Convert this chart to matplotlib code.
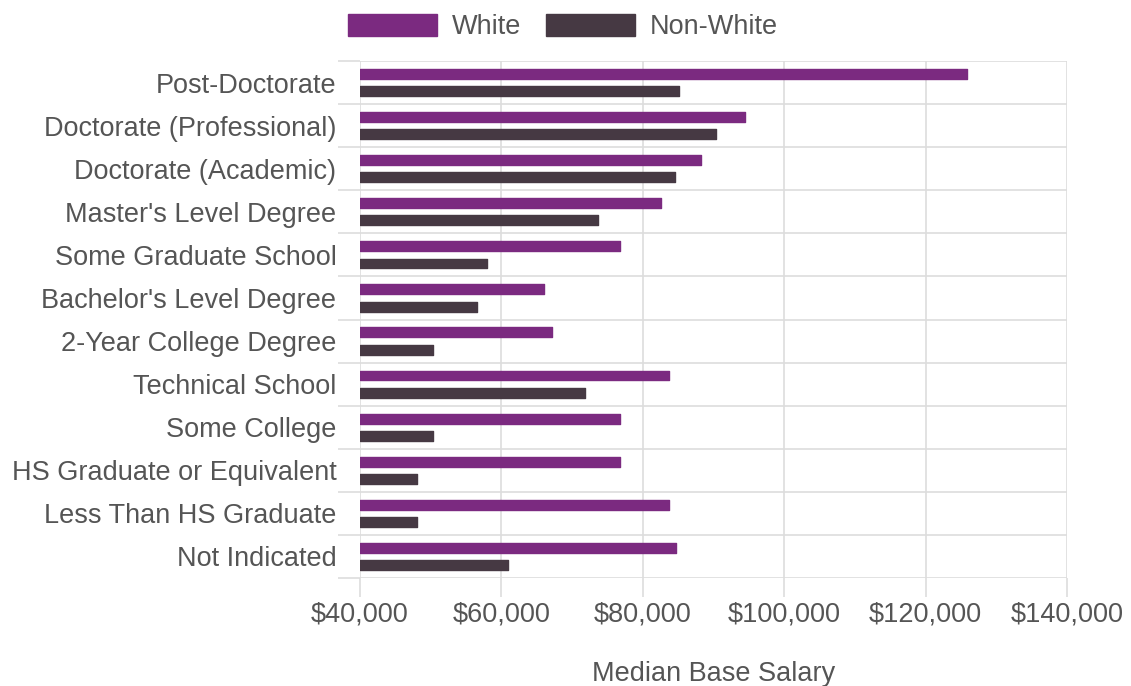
import matplotlib
matplotlib.use("Agg")
import matplotlib.pyplot as plt
import numpy as np
from matplotlib.ticker import FuncFormatter, FixedLocator

categories = [
    "Post-Doctorate",
    "Doctorate (Professional)",
    "Doctorate (Academic)",
    "Master's Level Degree",
    "Some Graduate School",
    "Bachelor's Level Degree",
    "2-Year College Degree",
    "Technical School",
    "Some College",
    "HS Graduate or Equivalent",
    "Less Than HS Graduate",
    "Not Indicated",
]
white = [125800, 94500, 88300, 82600, 76800, 66000, 67200, 83700, 76800, 76800, 83700, 84700]
non_white = [85100, 90300, 84500, 73600, 57900, 56600, 50300, 71800, 50300, 48000, 48000, 61000]
xticks = [40000, 60000, 80000, 100000, 120000, 140000]

WHITE_C = "#7b2a80"
NONWHITE_C = "#463943"
TEXT_C = "#555555"
GRID_C = "#dddddd"

plt.rcParams['font.family'] = ['Liberation Sans', 'DejaVu Sans']

fig = plt.figure(figsize=(11.31, 6.86), dpi=100)
ax = fig.add_axes([360/1131, 1-578/686, (1067-360)/1131, (578-61)/686])

n = len(categories)
y = np.arange(n)
off = 0.2
h = 0.23
ax.barh(y - off, np.array(white) - 40000, left=40000, height=h, color=WHITE_C,
        edgecolor=WHITE_C, linewidth=1.0, joinstyle='round', label="White", zorder=3)
ax.barh(y + off, np.array(non_white) - 40000, left=40000, height=h, color=NONWHITE_C,
        edgecolor=NONWHITE_C, linewidth=1.0, joinstyle='round', label="Non-White", zorder=3)

ax.set_xlim(40000, 140000)
ax.set_ylim(n - 0.5, -0.5)

ax.set_xticks(xticks)
ax.xaxis.set_major_formatter(FuncFormatter(lambda v, p: "${:,.0f}".format(v)))
ax.set_yticks(y)
ax.set_yticklabels(categories)
ax.yaxis.set_minor_locator(FixedLocator(np.arange(-0.5, n, 1.0)))

ax.tick_params(axis='y', which='major', length=0, pad=17, labelsize=19.5, labelcolor=TEXT_C)
ax.tick_params(axis='y', which='minor', length=16, width=1.2, color=GRID_C)
ax.tick_params(axis='x', which='major', length=14, width=1.2, color=GRID_C, pad=3,
               labelsize=19.5, labelcolor=TEXT_C)

ax.grid(axis='x', which='major', color=GRID_C, linewidth=1.2, zorder=0)
ax.grid(axis='y', which='minor', color=GRID_C, linewidth=1.2, zorder=0)
for s in ax.spines.values():
    s.set_visible(False)

ax.set_xlabel("Median Base Salary", fontsize=19.5, color=TEXT_C, labelpad=24)

leg = fig.legend(loc='center', bbox_to_anchor=(563/1131, 1-27/686), ncol=2, frameon=False,
                 fontsize=19.5, handlelength=3.3, handleheight=0.9, handletextpad=0.55,
                 columnspacing=0.9)
for t in leg.get_texts():
    t.set_color(TEXT_C)

fig.savefig("out.png", dpi=100, facecolor="white")
